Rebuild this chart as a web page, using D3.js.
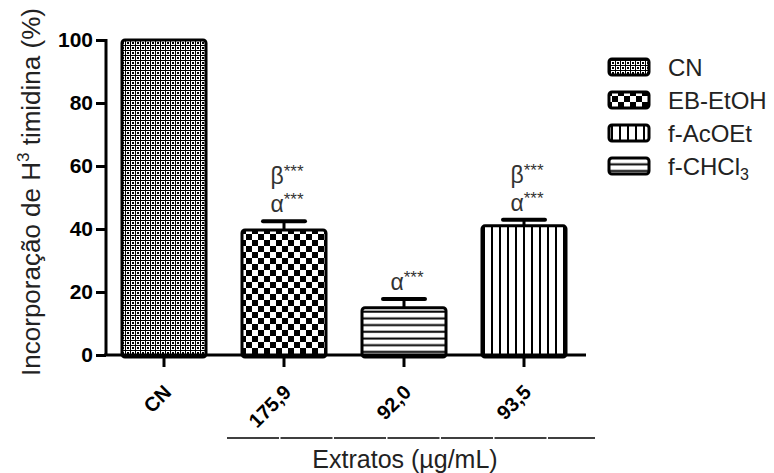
<!DOCTYPE html>
<html><head><meta charset="utf-8">
<script src="https://cdn.jsdelivr.net/npm/d3@7/dist/d3.min.js"></script>
<style>body{margin:0;background:#fff}svg{display:block}text{font-family:Arial,"Liberation Sans",sans-serif}</style>
</head><body><svg id="c" width="774" height="473"></svg>
<script>
const categories = ["CN", "175,9", "92,0", "93,5"];
const values = [100, 39.7, 15.0, 41.0];
const errors = [0, 2.8, 2.8, 1.9];
const series = ["CN", "EB-EtOH", "f-AcOEt", "f-CHCl3"];
const barPattern = ["pCN", "pEB", "pCHCl", "pAc"];
const legendPattern = ["pCN", "pEB", "pAc", "pCHCl"];
const annotations = [[], ["β", "α"], ["α"], ["β", "α"]];
const yTicks = [0, 20, 40, 60, 80, 100];

const svg = d3.select("#c");
const defs = svg.append("defs");
// patterns
let p = defs.append("pattern").attr("id","pCN").attr("width",5).attr("height",5).attr("patternUnits","userSpaceOnUse");
p.append("rect").attr("width",5).attr("height",5).attr("fill","#000");
p.append("rect").attr("x",1).attr("y",1).attr("width",4).attr("height",4).attr("fill","#fff");
p.append("rect").attr("x",2).attr("y",2).attr("width",2).attr("height",2).attr("fill","#000");
p = defs.append("pattern").attr("id","pEB").attr("width",12).attr("height",12).attr("patternUnits","userSpaceOnUse");
p.append("rect").attr("width",12).attr("height",12).attr("fill","#fff");
p.append("rect").attr("width",6).attr("height",6).attr("fill","#000");
p.append("rect").attr("x",6).attr("y",6).attr("width",6).attr("height",6).attr("fill","#000");
p = defs.append("pattern").attr("id","pAc").attr("width",8).attr("height",8).attr("patternUnits","userSpaceOnUse");
p.append("rect").attr("width",8).attr("height",8).attr("fill","#fff");
p.append("rect").attr("x",3).attr("width",2).attr("height",8).attr("fill","#000");
p = defs.append("pattern").attr("id","pCHCl").attr("width",8).attr("height",6.7).attr("patternUnits","userSpaceOnUse");
p.append("rect").attr("width",8).attr("height",6.7).attr("fill","#fff");
p.append("rect").attr("y",2.5).attr("width",8).attr("height",2).attr("fill","#000");

const x = d3.scaleBand().domain(categories).range([104, 584]).paddingInner(0.3).paddingOuter(0.15);
const y = d3.scaleLinear().domain([0, 100]).range([355, 40]);

// bars
svg.selectAll("rect.bar").data(values).join("rect").attr("class","bar")
  .attr("x",(d,i)=>x(categories[i])).attr("width",x.bandwidth())
  .attr("y",d=>y(d)).attr("height",d=>y(0)-y(d)+2)
  .attr("rx",3).attr("fill",(d,i)=>`url(#${barPattern[i]})`)
  .attr("stroke","#000").attr("stroke-width",3);

// error bars
values.forEach((v,i)=>{
  if(!errors[i]) return;
  const cx = x(categories[i]) + x.bandwidth()/2;
  svg.append("line").attr("x1",cx).attr("x2",cx).attr("y1",y(v)).attr("y2",y(v+errors[i])).attr("stroke","#000").attr("stroke-width",3);
  svg.append("line").attr("x1",cx-21).attr("x2",cx+21).attr("y1",y(v+errors[i])).attr("y2",y(v+errors[i])).attr("stroke","#000").attr("stroke-width",4).attr("stroke-linecap","round");
});

// annotations
annotations.forEach((arr,i)=>{
  const cx = x(categories[i]) + x.bandwidth()/2 + 3;
  const top = y(values[i]+errors[i]);
  arr.slice().reverse().forEach((g,k)=>{
    const t = svg.append("text").attr("x",cx).attr("y",top-9-k*28).attr("text-anchor","middle")
      .attr("font-size",23).attr("fill","#333");
    t.append("tspan").text(g);
    t.append("tspan").attr("font-size",17).attr("dy",-7).text("***");
  });
});

// y axis
const ya = svg.append("g").attr("transform","translate(106,0)")
  .call(d3.axisLeft(y).tickValues(yTicks).tickSize(10).tickPadding(3));
ya.select(".domain").attr("stroke-width",3).attr("d","M0,39V356");
ya.selectAll(".tick line").attr("stroke-width",3);
ya.selectAll(".tick text").attr("font-size",21).attr("font-weight","bold").attr("fill","#000").attr("font-family","Arial,'Liberation Sans',sans-serif");

// x axis
const xa = svg.append("g").attr("transform","translate(0,355)")
  .call(d3.axisBottom(x).tickSize(12).tickPadding(0));
xa.select(".domain").attr("stroke-width",3).attr("d","M104,0H586");
xa.selectAll(".tick line").attr("stroke-width",3);
xa.selectAll(".tick text").attr("font-size",20).attr("font-weight","bold").attr("fill","#000")
  .attr("font-family","Arial,'Liberation Sans',sans-serif")
  .attr("text-anchor","end").attr("dy",0)
  .attr("transform","translate(0,30) rotate(-45)");

// bracket
svg.append("line").attr("x1",227).attr("x2",595).attr("y1",438).attr("y2",438)
  .attr("stroke","#000").attr("stroke-width",1.5).attr("stroke-dasharray","52,1.5");
svg.append("text").attr("x",405).attr("y",468).attr("text-anchor","middle").attr("font-size",25).attr("fill","#222")
  .text("Extratos (µg/mL)");

// y title
const yt = svg.append("text").attr("transform","translate(40,192) rotate(-90)").attr("text-anchor","middle")
  .attr("font-size",26).attr("fill","#222");
yt.append("tspan").text("Incorporação de H");
yt.append("tspan").attr("font-size",17).attr("dy",-11).text("3");
yt.append("tspan").attr("dy",11).text(" timidina (%)");

// legend
const ly = d3.scalePoint().domain(series).range([67, 166]);
series.forEach((s,i)=>{
  const cy = ly(s);
  svg.append("rect").attr("x",609).attr("y",cy-8).attr("width",40).attr("height",16).attr("rx",3)
    .attr("fill",`url(#${legendPattern[i]})`).attr("stroke","#000").attr("stroke-width",3);
  const t = svg.append("text").attr("x",668).attr("y",cy+9).attr("font-size",24).attr("fill","#222");
  if(s === "f-CHCl3"){ t.append("tspan").text("f-CHCl"); t.append("tspan").attr("font-size",16).attr("dy",5).text("3"); }
  else t.text(s);
});
</script></body></html>
